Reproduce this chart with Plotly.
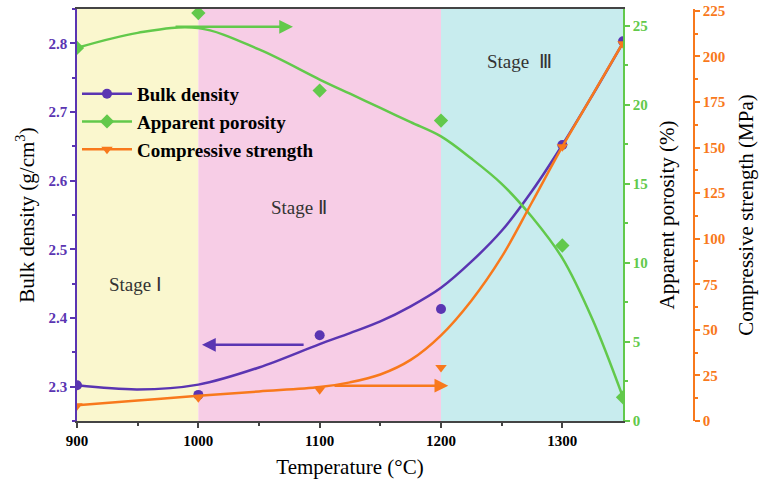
import plotly.graph_objects as go

# Measured data
temps = [900, 1000, 1100, 1200, 1300, 1350]
bulk_density = [2.302, 2.288, 2.375, 2.413, 2.652, 2.803]
apparent_porosity = [23.6, 25.8, 20.9, 19.0, 11.1, 1.5]
compressive_strength = [8.4, 12.8, 17.2, 29.3, 150.5, 207.0]

# Smoothed fit curves
fit_temps = [900, 950, 1000, 1050, 1100, 1125, 1150, 1175, 1200, 1225, 1250, 1275, 1300, 1325, 1350]
bulk_fit = [2.302, 2.296, 2.303, 2.328, 2.362, 2.378, 2.395, 2.417, 2.444, 2.482, 2.527, 2.585, 2.652, 2.725, 2.801]
porosity_fit = [23.6, 24.55, 24.85, 23.5, 21.6, 20.7, 19.8, 18.9, 18.0, 16.6, 15.0, 12.9, 10.3, 6.4, 1.5]
strength_fit = [8.6, 11.2, 13.8, 16.2, 18.6, 21.2, 25.5, 33.5, 47.0, 66.0, 90.0, 120.0, 150.5, 179.0, 207.5]

# Stages
stage_bounds = [900, 1000, 1200, 1350]
stage_colors = ["#FAF7CE", "#F7CDE6", "#C8ECEE"]
stage_labels = ["Stage \u2160", "Stage \u2161", "Stage\u00a0\u00a0\u2162"]
stage_label_x = [948, 1083, 1265]
stage_label_y = [2.449, 2.561, 2.774]

# Trend arrows: (tail x, head x, y)
bulk_arrow = (1088, 1003, 2.361)
porosity_arrow = (980, 1078, 24.93)
strength_arrow = (1111, 1206, 19.4)

PURPLE = "#5A35B2"
GREEN = "#62C94B"
ORANGE = "#F8791C"
SERIF = "Liberation Serif"

fig = go.Figure()

# curves
fig.add_trace(go.Scatter(x=fit_temps, y=bulk_fit, mode="lines", line=dict(color=PURPLE, width=2.5, shape="spline"),
                         showlegend=False, yaxis="y", hoverinfo="skip"))
fig.add_trace(go.Scatter(x=fit_temps, y=porosity_fit, mode="lines", line=dict(color=GREEN, width=2.5, shape="spline"),
                         showlegend=False, yaxis="y2", hoverinfo="skip"))
fig.add_trace(go.Scatter(x=fit_temps, y=strength_fit, mode="lines", line=dict(color=ORANGE, width=2.5, shape="spline"),
                         showlegend=False, yaxis="y3", hoverinfo="skip"))
# markers
fig.add_trace(go.Scatter(x=temps, y=bulk_density, mode="markers", marker=dict(color=PURPLE, size=10, symbol="circle"),
                         showlegend=False, yaxis="y"))
fig.add_trace(go.Scatter(x=temps, y=apparent_porosity, mode="markers", marker=dict(color=GREEN, size=11, symbol="diamond"),
                         showlegend=False, yaxis="y2"))
fig.add_trace(go.Scatter(x=temps, y=compressive_strength, mode="markers",
                         marker=dict(color=ORANGE, size=10, symbol="triangle-down"), showlegend=False, yaxis="y3"))
# legend entries
fig.add_trace(go.Scatter(x=[None], y=[None], mode="lines+markers", name="Bulk density",
                         line=dict(color=PURPLE, width=2.5), marker=dict(color=PURPLE, size=10, symbol="circle")))
fig.add_trace(go.Scatter(x=[None], y=[None], mode="lines+markers", name="Apparent porosity",
                         line=dict(color=GREEN, width=2.5), marker=dict(color=GREEN, size=11, symbol="diamond")))
fig.add_trace(go.Scatter(x=[None], y=[None], mode="lines+markers", name="Compressive strength",
                         line=dict(color=ORANGE, width=2.5), marker=dict(color=ORANGE, size=10, symbol="triangle-down")))

shapes = []
for i, c in enumerate(stage_colors):
    shapes.append(dict(type="rect", xref="x", yref="y domain", x0=stage_bounds[i], x1=stage_bounds[i + 1],
                       y0=0, y1=1, fillcolor=c, line=dict(width=0), layer="below"))

annotations = []
for t, x, y in zip(stage_labels, stage_label_x, stage_label_y):
    annotations.append(dict(x=x, y=y, xref="x", yref="y", text=t, showarrow=False,
                            font=dict(family=SERIF, size=19, color="#333333")))

for (tail, head, yv), yr, col in [(bulk_arrow, "y", PURPLE), (porosity_arrow, "y2", GREEN),
                                  (strength_arrow, "y3", ORANGE)]:
    annotations.append(dict(x=head, y=yv, xref="x", yref=yr, ax=tail, ay=yv, axref="x", ayref=yr,
                            text="", showarrow=True, arrowhead=2, arrowsize=1.1, arrowwidth=2.5,
                            arrowcolor=col, standoff=0, startstandoff=0))

tick_font = lambda c: dict(family=SERIF, size=15, color=c, weight="bold")
title_font = dict(family=SERIF, size=21, color="black")

L, R, T, B = 77, 67, 9, 63
W, H = 761, 484
plot_w = W - L - R
x_dom_end = (623 - L) / plot_w

fig.update_layout(
    width=W, height=H,
    margin=dict(l=L, r=R, t=T, b=B),
    plot_bgcolor="white", paper_bgcolor="white",
    shapes=shapes, annotations=annotations,
    showlegend=True,
    legend=dict(x=0.0, y=0.84, xanchor="left", yanchor="top", bgcolor="rgba(0,0,0,0)",
                font=dict(family=SERIF, size=19, color="black", weight="bold"), tracegroupgap=0,
                itemwidth=50),
    xaxis=dict(domain=[0, x_dom_end], range=[900, 1350], tickvals=[900, 1000, 1100, 1200, 1300],
               showgrid=False, zeroline=False, showline=True, linecolor="#444444", linewidth=1.5, mirror=True,
               ticks="outside", ticklen=5, tickwidth=1.5, tickcolor="#444444",
               minor=dict(tickvals=[950, 1050, 1150, 1250], ticks="outside", ticklen=3, tickcolor="#444444"),
               tickfont=tick_font("black"), automargin=False,
               title=dict(text="Temperature (\u00b0C)", font=title_font, standoff=12)),
    yaxis=dict(range=[2.25, 2.85], tickvals=[2.3, 2.4, 2.5, 2.6, 2.7, 2.8], tickformat=".1f",
               showgrid=False, zeroline=False, showline=True, linecolor=PURPLE, linewidth=1.5,
               ticks="outside", ticklen=5, tickwidth=1.5, tickcolor=PURPLE,
               minor=dict(tickvals=[2.25, 2.35, 2.45, 2.55, 2.65, 2.75, 2.85], ticks="outside", ticklen=3,
                          tickcolor=PURPLE),
               tickfont=tick_font(PURPLE), automargin=False,
               title=dict(text="Bulk density (g/cm<sup>3</sup>)", font=title_font, standoff=8)),
    yaxis2=dict(range=[0, 26.06], overlaying="y", side="right", anchor="x", tickvals=[0, 5, 10, 15, 20, 25],
                showgrid=False, zeroline=False, showline=True, linecolor=GREEN, linewidth=1.5,
                ticks="outside", ticklen=5, tickwidth=1.5, tickcolor=GREEN,
                minor=dict(tickvals=[2.5, 7.5, 12.5, 17.5, 22.5], ticks="outside", ticklen=3, tickcolor=GREEN),
                tickfont=tick_font(GREEN), automargin=False,
                title=dict(text="Apparent porosity (%)", font=title_font, standoff=13)),
    yaxis3=dict(range=[0, 226], overlaying="y", side="right", anchor="free", position=1.0,
                tickvals=[0, 25, 50, 75, 100, 125, 150, 175, 200, 225],
                showgrid=False, zeroline=False, showline=True, linecolor=ORANGE, linewidth=1.5,
                ticks="outside", ticklen=5, tickwidth=1.5, tickcolor=ORANGE,
                minor=dict(tickvals=[12.5, 37.5, 62.5, 87.5, 112.5, 137.5, 162.5, 187.5, 212.5], ticks="outside",
                           ticklen=3, tickcolor=ORANGE),
                tickfont=tick_font(ORANGE), automargin=False,
                title=dict(text="Compressive strength (MPa)", font=title_font, standoff=13)),
)

fig.write_html("out.html")
